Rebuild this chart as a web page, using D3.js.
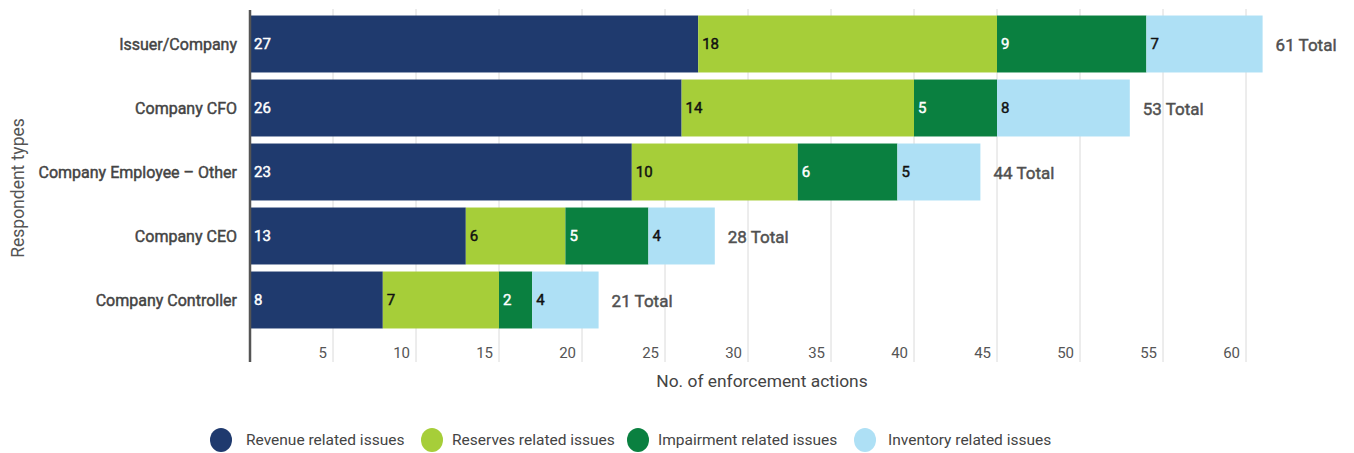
<!DOCTYPE html>
<html><head><meta charset="utf-8">
<script src="https://cdn.jsdelivr.net/npm/d3@7"></script>
<style>body{margin:0;background:#fff;font-family:Roboto,"Noto Sans",sans-serif;}</style>
</head><body><svg id="c" width="1354" height="453"></svg>
<script>
const categories = ["Issuer/Company","Company CFO","Company Employee – Other","Company CEO","Company Controller"];
const seriesNames = ["Revenue related issues","Reserves related issues","Impairment related issues","Inventory related issues"];
const revenue = [27,26,23,13,8];
const reserves = [18,14,10,6,7];
const impairment = [9,5,6,5,2];
const inventory = [7,8,5,4,4];
const xTicks = [5,10,15,20,25,30,35,40,45,50,55,60];
const colors = ["#1f3a6e","#a6ce39","#0a8040","#aee0f5"];
const labelColors = ["#fff","#111","#fff","#111"];

const seriesVals = [revenue,reserves,impairment,inventory];
const rows = categories.map((c,i)=>{const o={cat:c}; seriesNames.forEach((s,j)=>o[s]=seriesVals[j][i]); return o;});
const stack = d3.stack().keys(seriesNames)(rows);

const svg = d3.select("#c");
const x = d3.scaleLinear().domain([0,61]).range([250,1262.6]);
const y = d3.scaleBand().domain(categories).range([12,332]).paddingInner(0.11).paddingOuter(0.055);
const plotTop = 9, plotBottom = 362;

// gridlines
svg.append("g").selectAll("line").data(xTicks).join("line")
  .attr("x1",d=>x(d)).attr("x2",d=>x(d)).attr("y1",plotTop).attr("y2",plotBottom)
  .attr("stroke","#dadada").attr("stroke-width",1);

// bars
const g = svg.append("g");
stack.forEach((s,j)=>{
  g.append("g").selectAll("rect").data(s).join("rect")
    .attr("x",d=>x(d[0])).attr("width",d=>x(d[1])-x(d[0]))
    .attr("y",d=>y(d.data.cat)).attr("height",y.bandwidth())
    .attr("fill",colors[j]);
  g.append("g").selectAll("text").data(s).join("text")
    .attr("x",d=>x(d[0])+4).attr("y",d=>y(d.data.cat)+y.bandwidth()/2)
    .attr("dy","0.35em").attr("fill",labelColors[j])
    .attr("stroke",labelColors[j]).attr("stroke-width",0.45)
    .style("font-size","15px")
    .text(d=>d[1]-d[0]);
});

// totals
const last = stack[stack.length-1];
svg.append("g").selectAll("text").data(last).join("text")
  .attr("x",d=>x(d[1])+13).attr("y",d=>y(d.data.cat)+y.bandwidth()/2+1)
  .attr("dy","0.35em").attr("fill","#505050").attr("stroke","#505050").attr("stroke-width",0.45)
  .style("font-size","17px")
  .text(d=>d[1]+" Total");

// y axis line
svg.append("line").attr("x1",250).attr("x2",250).attr("y1",plotTop+1).attr("y2",plotBottom)
  .attr("stroke","#555").attr("stroke-width",2.5);

// category labels
svg.append("g").selectAll("text").data(categories).join("text")
  .attr("x",237).attr("y",d=>y(d)+y.bandwidth()/2).attr("dy","0.35em")
  .attr("text-anchor","end").attr("fill","#444").attr("stroke","#444").attr("stroke-width",0.45)
  .style("font-size","16px").text(d=>d);

// tick labels
svg.append("g").selectAll("text").data(xTicks).join("text")
  .attr("x",d=>x(d)-6).attr("y",353).attr("dy","0.35em")
  .attr("text-anchor","end").attr("fill","#555").style("font-size","15px").text(d=>d);

// axis titles
svg.append("text").attr("x",762).attr("y",381).attr("dy","0.35em").attr("text-anchor","middle")
  .attr("fill","#444").style("font-size","17.4px").text("No. of enforcement actions");
svg.append("text").attr("transform","translate(18,188) rotate(-90)").attr("dy","0.35em")
  .attr("text-anchor","middle").attr("fill","#555").style("font-size","17.5px").text("Respondent types");

// legend
const legX = [221,432,638,865];
const legTextX = [246,452,658,888];
const lg = svg.append("g").selectAll("g").data(seriesNames).join("g")
  .attr("transform",(d,i)=>`translate(${legX[i]},440)`);
lg.append("ellipse").attr("rx",11).attr("ry",12).attr("fill",(d,i)=>colors[i]);
lg.append("text").attr("x",(d,i)=>legTextX[i]-legX[i]).attr("dy","0.35em").attr("fill","#444")
  .style("font-size","15.5px").text(d=>d);
</script></body></html>
